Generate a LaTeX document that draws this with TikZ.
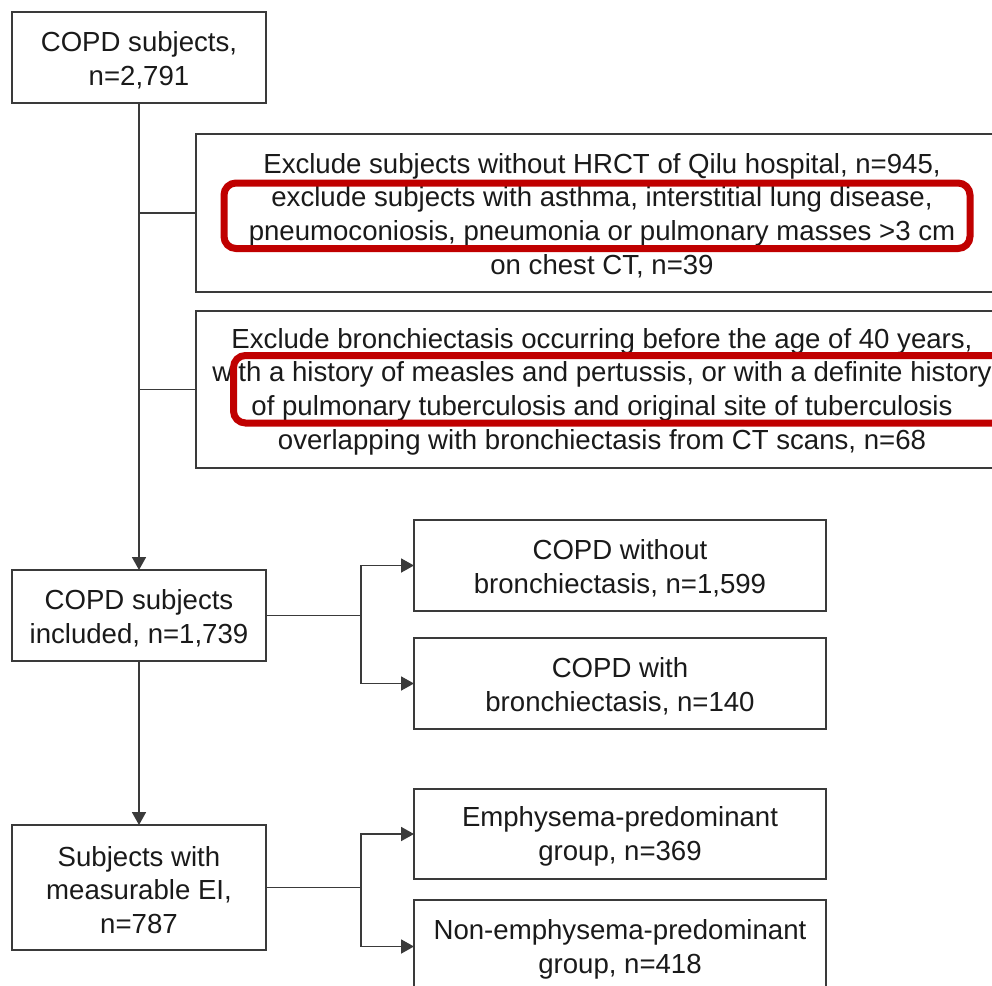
\documentclass[tikz,border=0pt]{standalone}
\usepackage{fontspec}
\setmainfont{Liberation Sans}
\usetikzlibrary{arrows.meta}
\definecolor{hl}{HTML}{C00000}
\definecolor{ln}{HTML}{3A3A3A}
\definecolor{tx}{HTML}{1A1A1A}
\begin{document}
\begin{tikzpicture}[x=1pt,y=-1pt,
  box/.style={draw=ln, line width=1.7pt, fill=white, inner sep=0pt, outer sep=0pt},
  smallbox/.style={box, minimum width=254pt},
  widebox/.style={box, minimum width=812pt},
  midbox/.style={box, minimum width=412pt},
  txt/.style={inner sep=0pt, align=center, text=tx, font=\fontsize{27.6}{33.7}\selectfont},
  conn/.style={draw=ln, line width=1.8pt},
  arr/.style={conn, -{Triangle[length=13pt,width=14pt]}},
  hlbox/.style={draw=hl, line width=7pt, rounded corners=12pt}]
\useasboundingbox (0,0) rectangle (992,985);
\clip (0,0) rectangle (992,985);
\fill[white] (0,0) rectangle (992,985);

% boxes
\node[smallbox, minimum height=91pt] (b1) at (139,57.5) {};
\node[widebox, minimum height=158pt] (ex1) at (602,213) {};
\node[widebox, minimum height=157pt] (ex2) at (602,389.5) {};
\node[smallbox, minimum height=91pt] (b3) at (139,615.5) {};
\node[midbox, minimum height=91pt] (b4) at (620,565.5) {};
\node[midbox, minimum height=91pt] (b5) at (620,683.5) {};
\node[smallbox, minimum height=125pt] (b6) at (139,887.5) {};
\node[midbox, minimum height=90pt] (b7) at (620,834) {};
\node[midbox, minimum height=93pt] (b8) at (620,946.5) {};

% texts
\node[txt] (t1) at ([yshift=-2.5pt]b1.center) {COPD subjects,\\n=2,791};
\node[txt] (tex1) at ([yshift=-2.5pt]ex1.center)
  {Exclude subjects without HRCT of Qilu hospital, n=945,\\
   exclude subjects with asthma, interstitial lung disease,\\
   pneumoconiosis, pneumonia or pulmonary masses >3 cm\\
   on chest CT, n=39};
\node[txt] (tex2) at ([yshift=-2pt]ex2.center)
  {Exclude bronchiectasis occurring before the age of 40 years,\\
   with a history of measles and pertussis, or with a definite history\\
   of pulmonary tuberculosis and original site of tuberculosis\\
   overlapping with bronchiectasis from CT scans, n=68};
\node[txt] (t3) at ([yshift=-2.5pt]b3.center) {COPD subjects\\included, n=1,739};
\node[txt] (t4) at ([yshift=-2.5pt]b4.center) {COPD without\\bronchiectasis, n=1,599};
\node[txt] (t5) at ([yshift=-2.5pt]b5.center) {COPD with\\bronchiectasis, n=140};
\node[txt] (t6) at ([yshift=-2.5pt]b6.center) {Subjects with\\measurable EI,\\n=787};
\node[txt] (t7) at ([yshift=-2.5pt]b7.center) {Emphysema-predominant\\group, n=369};
\node[txt] (t8) at ([yshift=-2.5pt]b8.center) {Non-emphysema-predominant\\group, n=418};

% trunk and exclusions
\draw[arr] (b1.south) -- (b3.north);
\draw[conn] (b1.south |- ex1.west) -- (ex1.west);
\draw[conn] (b1.south |- ex2.west) -- (ex2.west);

% first split
\draw[conn] (b3.east) -- ++(95,0) coordinate (j1);
\draw[arr] (j1) |- (b4.west);
\draw[arr] (j1) |- (b5.west);

% second step
\draw[arr] (b3.south) -- (b6.north);
\draw[conn] (b6.east) -- ++(95,0) coordinate (j2);
\draw[arr] (j2) |- (b7.west);
\draw[arr] (j2) |- (b8.west);

% highlight frames
\draw[hlbox] (224,183) rectangle (970,248.5);
\draw[hlbox] (233.5,355.5) rectangle (1012,423);
\end{tikzpicture}
\end{document}
